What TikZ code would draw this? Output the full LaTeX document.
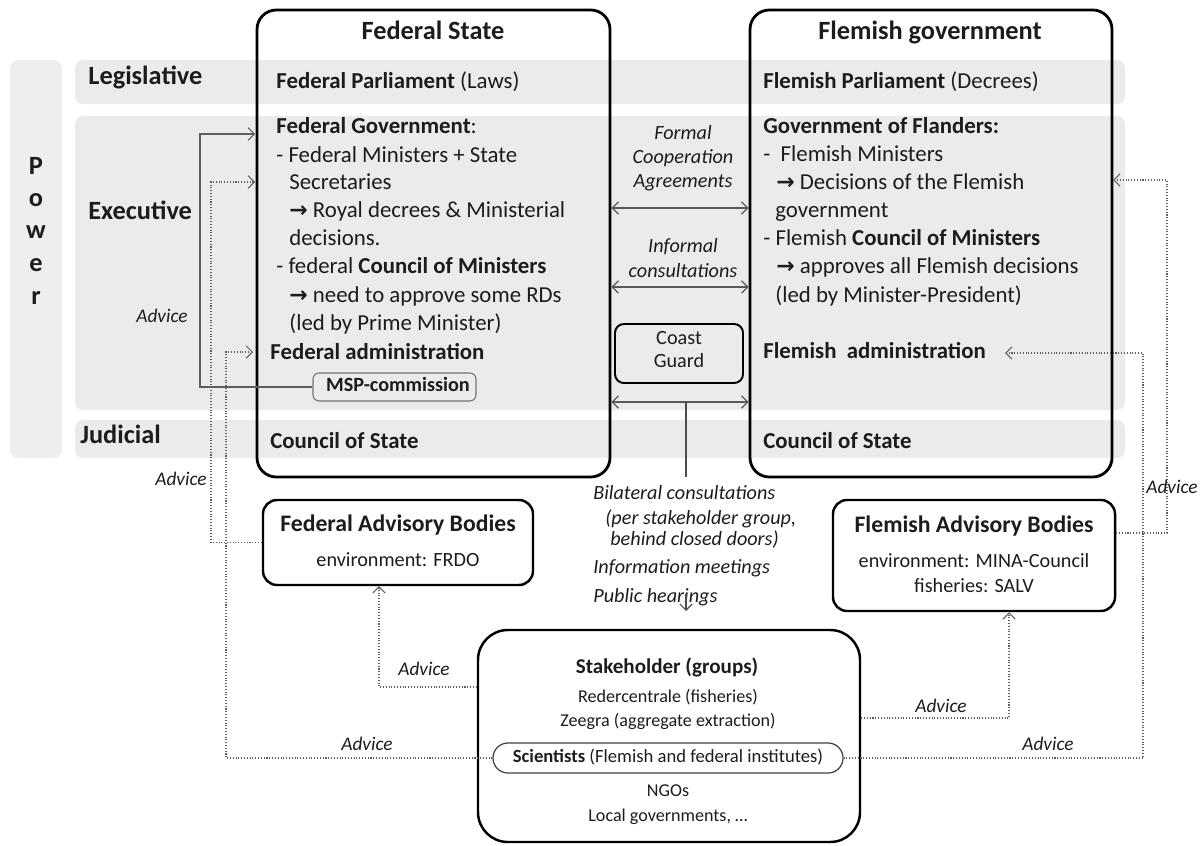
\documentclass[tikz,border=0pt]{standalone}
\usepackage{fontspec}
\setmainfont{Carlito}
\newfontfamily\arrfont{DejaVu Sans}
\usetikzlibrary{arrows.meta,fit}
\definecolor{rowgray}{HTML}{EBEBEB}
\definecolor{bandgray}{HTML}{EEEEEE}
\definecolor{lngray}{HTML}{5E5E5E}
\definecolor{txt}{HTML}{1C1C1C}
\newcommand{\rarr}{{\arrfont\bfseries\fontsize{12.5}{14}\selectfont →}}
\begin{document}
\begin{tikzpicture}[x=0.02cm,y=-0.02cm,
  every node/.style={inner sep=0pt, text=txt},
  row/.style={fill=rowgray, draw=none, rounded corners=4.5pt},
  bigbox/.style={draw=black, line width=1.6pt, rounded corners=11pt, inner sep=0pt},
  advbox/.style={draw=black, line width=1.4pt, rounded corners=8pt, inner sep=0pt},
  cgbox/.style={draw=black, line width=1.1pt, rounded corners=5pt, inner sep=0pt},
  mspbox/.style={draw=black!55, line width=0.6pt, rounded corners=3.5pt, inner sep=0pt},
  scibox/.style={draw=black!75, line width=0.7pt, rounded corners=8.5pt, inner sep=0pt},
  lbl/.style={font=\fontsize{15}{18}\selectfont\bfseries, anchor=west, text height=10pt, text depth=3pt},
  ttl/.style={font=\fontsize{15}{18}\selectfont\bfseries, text height=10pt, text depth=3pt},
  body/.style={font=\fontsize{13}{16}\selectfont, anchor=west, text height=9pt, text depth=3pt},
  bodyc/.style={font=\fontsize{13}{16}\selectfont, text height=9pt, text depth=3pt},
  small/.style={font=\fontsize{11.5}{13.5}\selectfont, text height=8pt, text depth=2.5pt},
  shtxt/.style={font=\fontsize{10.3}{12.5}\selectfont, text height=7.5pt, text depth=2.2pt},
  itl/.style={font=\fontsize{11.5}{13.5}\selectfont\itshape, text height=8pt, text depth=2.5pt},
  advlbl/.style={font=\fontsize{11}{13}\selectfont\itshape, text height=8pt, text depth=2pt},
  adv/.style={draw=lngray, line width=0.6pt, densely dotted},
  mspline/.style={draw=lngray, line width=0.6pt},
  tip/.style={-{Straight Barb[length=3.5pt,width=7pt]}},
  dbl/.style={draw=black!65, line width=0.7pt, {Straight Barb[length=3.5pt,width=7pt]}-{Straight Barb[length=3.5pt,width=7pt]}},
  cgline/.style={draw=black!70, line width=0.7pt}
]
\useasboundingbox (0,0) rectangle (1202,845);

% background bands
\path[row, fill=bandgray] (10,60) rectangle (62,458);
\path[row] (75,60) rectangle (1125,104);
\path[row] (75,116) rectangle (1125,410);
\path[row] (75,420) rectangle (1125,458);

% Power letters
\node[lbl, anchor=center] (pw1) at (36,168) {P};
\node[lbl, anchor=center] (pw2) at (36,200) {o};
\node[lbl, anchor=center] (pw3) at (36,232) {w};
\node[lbl, anchor=center] (pw4) at (36,265) {e};
\node[lbl, anchor=center] (pw5) at (36,298) {r};

\node[lbl] (leg) at (88,78) {Legislative};
\node[lbl] (exe) at (88,213) {Executive};
\node[lbl] (jud) at (80,437) {Judicial};

% main boxes
\node[bigbox, fit={(257,10) (610,477)}] (fed) {};
\node[bigbox, fit={(750,10) (1112,477)}] (flem) {};

\node[ttl] (fedt) at (433,33) {Federal State};
\node[ttl] (flemt) at (930,33) {Flemish government};

% federal texts
\node[body] (f1) at (276,83) {\textbf{Federal Parliament} (Laws)};
\node[body] (f2) at (276,128) {\textbf{Federal Government}:};
\node[body] (f3) at (276,157) {- Federal Ministers + State};
\node[body] (f4) at (289,184) {Secretaries};
\node[body] (f5) at (289,212) {\rarr\ Royal decrees \& Ministerial};
\node[body] (f6) at (289,240) {decisions.};
\node[body] (f7) at (276,268) {- federal \textbf{Council of Ministers}};
\node[body] (f8) at (289,297) {\rarr\ need to approve some RDs};
\node[body] (f9) at (289,325) {(led by Prime Minister)};
\node[body] (f10) at (270,354) {\textbf{Federal administration}};
\node[mspbox, fit={(313,373) (476,401)}] (msp) {};
\node[small, font=\fontsize{11.5}{13.5}\selectfont\bfseries] (mspt) at ([xshift=2pt]msp.center) {MSP-commission};
\node[body] (f11) at (270,443) {\textbf{Council of State}};

% flemish texts
\node[body] (g1) at (763,83) {\textbf{Flemish Parliament} (Decrees)};
\node[body] (g2) at (763,128) {\textbf{Government of Flanders:}};
\node[body] (g3) at (763,156) {-\ \ Flemish Ministers};
\node[body] (g4) at (776,184) {\rarr\ Decisions of the Flemish};
\node[body] (g5) at (775,212) {government};
\node[body] (g6) at (763,240) {- Flemish \textbf{Council of Ministers}};
\node[body] (g7) at (776,268) {\rarr\ approves all Flemish decisions};
\node[body] (g8) at (775,297) {(led by Minister-President)};
\node[body] (g9) at (763,353) {\textbf{Flemish\ \ administration}};
\node[body] (g10) at (763,443) {\textbf{Council of State}};

% centre channel
\node[itl] (c1a) at (683,135) {Formal};
\node[itl] (c1b) at (683,159) {Cooperation};
\node[itl] (c1c) at (683,183) {Agreements};
\node[itl] (c2a) at (683,248) {Informal};
\node[itl] (c2b) at (683,273) {consultations};
\node[cgbox, fit={(615,324) (743,383)}] (cg) {};
\node[small] (cga) at (679,340) {Coast};
\node[small] (cgb) at (679,363) {Guard};

\draw[dbl] (fed.east |- 0,208) -- (flem.west |- 0,208);
\draw[dbl] (fed.east |- 0,287) -- (flem.west |- 0,287);
\draw[dbl] (fed.east |- 0,402) -- (flem.west |- 0,402);

\coordinate (cgm) at (686,402);
\coordinate (cgl) at (686,477);
\draw[cgline] (cgm) -- (cgl);

\node[itl, anchor=west] (b1) at (593,495) {Bilateral consultations};
\node[itl, anchor=west] (b2) at (605,520) {(per stakeholder group,};
\node[itl, anchor=west] (b3) at (610,541) {behind closed doors)};
\node[itl, anchor=west] (b4) at (593,569) {Information meetings};
\node[itl, anchor=west] (b5) at (593,598) {Public hearings};
\coordinate (ph1) at (686,594);
\coordinate (ph2) at (686,611);
\draw[cgline, tip] (ph1) -- (ph2);

% advisory bodies
\node[advbox, fit={(263,500) (533,585)}] (fab) {};
\node[bodyc, font=\fontsize{13.5}{16}\selectfont\bfseries] (fab1) at (398,526) {Federal Advisory Bodies};
\node[small] (fab2) at (398,562) {environment: FRDO};

\node[advbox, fit={(833,500) (1115,611)}] (flab) {};
\node[bodyc, font=\fontsize{13.5}{16}\selectfont\bfseries] (flab1) at (974,527) {Flemish Advisory Bodies};
\node[small] (flab2) at (974,563) {environment: MINA-Council};
\node[small] (flab3) at (974,588) {fisheries: SALV};

% stakeholders
\node[advbox, rounded corners=17pt, fit={(478,630) (860,842)}] (sh) {};
\node[bodyc, font=\fontsize{12}{15}\selectfont\bfseries] (sh1) at (667,668) {Stakeholder (groups)};
\node[shtxt] (sh2) at (668,698) {Redercentrale (fisheries)};
\node[shtxt] (sh3) at (668,722) {Zeegra (aggregate extraction)};
\node[scibox, fit={(493,743) (843,773)}] (sci) {};
\node[shtxt, font=\fontsize{10.6}{12.5}\selectfont] (sh4) at (sci.center) {\textbf{Scientists} (Flemish and federal institutes)};
\node[shtxt] (sh5) at (668,792) {NGOs};
\node[shtxt] (sh6) at (668,817) {Local governments, \dots};

% advice connectors, federal side
\coordinate (fg1) at (255,134);
\coordinate (fg2) at (255,182);
\coordinate (fadm) at (253,352);
\draw[mspline, tip] (msp.west) -| (200,134) -- (fg1);
\draw[adv, tip] (fab.west) -| (211,182) -- (fg2);
\draw[adv, tip] (sci.west) -| (226,352) -- (fadm);
\draw[adv, tip] (sh.west |- 0,687) -| (fab.south -| 379,0);

% advice connectors, flemish side
\coordinate (flg) at (1113,180);
\coordinate (fla) at (1005,353);
\draw[adv, tip] (flab.east |- 0,533) -| (1167,180) -- (flg);
\draw[adv, tip] (sci.east) -| (1143,353) -- (fla);
\draw[adv, tip] (sh.east |- 0,718) -| (flab.south -| 1009,0);

% advice labels
\node[advlbl] (a1) at (162,317) {Advice};
\node[advlbl] (a2) at (181,480) {Advice};
\node[advlbl] (a3) at (424,670) {Advice};
\node[advlbl] (a4) at (367,745) {Advice};
\node[advlbl] (a5) at (941,707) {Advice};
\node[advlbl] (a6) at (1048,745) {Advice};
\node[advlbl] (a7) at (1172,488) {Advice};
\end{tikzpicture}
\end{document}
